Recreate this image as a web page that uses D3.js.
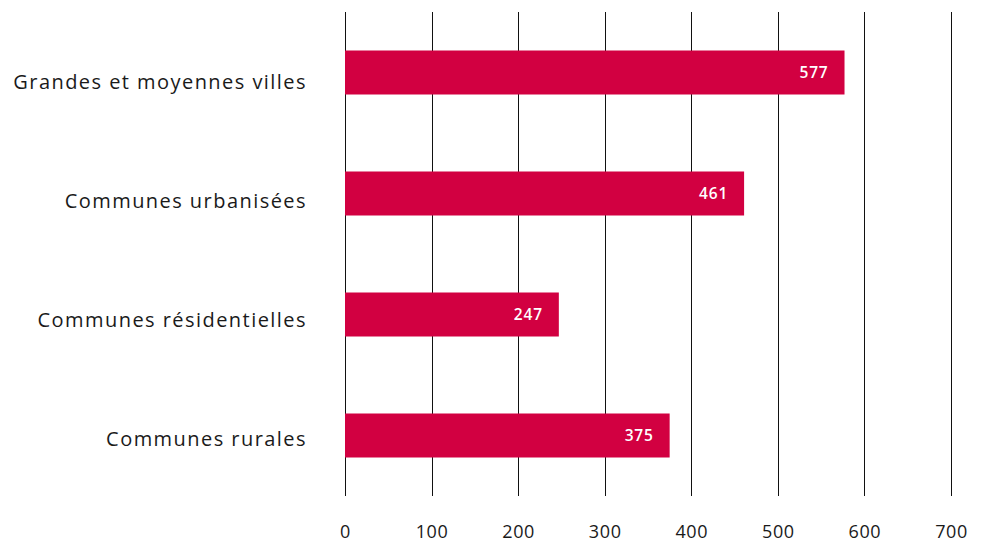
<!DOCTYPE html>
<html lang="fr">
<head>
<meta charset="utf-8" />
<style>
body { margin: 0; background: #fff; }
.cat { font-family: "Open Sans", sans-serif; font-size: 20px; letter-spacing: 1.45px; fill: #1a1a1a; text-anchor: end; }
.val { font-family: "Open Sans", sans-serif; font-size: 15.5px; font-weight: 600; letter-spacing: 0.8px; fill: #fff; text-anchor: end; }
.tick text { font-family: "Open Sans", sans-serif; font-size: 18px; letter-spacing: 0.6px; fill: #1a1a1a; }
.grid { stroke: #111; stroke-width: 1px; }
</style>
</head>
<body>
<script src="https://cdn.jsdelivr.net/npm/d3@7"></script>
<script>
var categories = ["Grandes et moyennes villes", "Communes urbanisées", "Communes résidentielles", "Communes rurales"];
var values = [577, 461, 247, 375];
var ticks = [0, 100, 200, 300, 400, 500, 600, 700];

var width = 981, height = 542;
var plotTop = 12, plotBottom = 496, plotLeft = 345, plotRight = 951;
var barH = 44;

var svg = d3.select("body").append("svg")
    .attr("width", width)
    .attr("height", height);

var x = d3.scaleLinear().domain([0, 700]).range([plotLeft, plotRight]);
var y = d3.scaleBand().domain(categories).range([plotTop, plotBottom]).padding(0);
// category labels sit on a slightly tighter spacing than the bars
var yLabel = d3.scalePoint().domain(categories).range([82, 438.5]);

// gridlines
svg.selectAll(".grid")
    .data(ticks)
  .enter().append("line")
    .attr("class", "grid")
    .attr("x1", function (d) { return Math.round(x(d)) + 0.5; })
    .attr("x2", function (d) { return Math.round(x(d)) + 0.5; })
    .attr("y1", plotTop)
    .attr("y2", plotBottom);

// tick labels
var axis = svg.append("g")
    .attr("transform", "translate(0," + (plotBottom + 23) + ")")
    .call(d3.axisBottom(x).tickValues(ticks).tickSize(0).tickPadding(0));
axis.select(".domain").remove();
axis.selectAll("text").attr("dy", "1.05em");

var rows = categories.map(function (c, i) { return { cat: c, value: values[i] }; });

svg.selectAll(".bar")
    .data(rows)
  .enter().append("rect")
    .attr("class", "bar")
    .attr("x", x(0))
    .attr("y", function (d) { return y(d.cat) + y.bandwidth() / 2 - barH / 2; })
    .attr("width", function (d) { return x(d.value) - x(0); })
    .attr("height", barH)
    .attr("fill", "#d20041");

svg.selectAll(".val")
    .data(rows)
  .enter().append("text")
    .attr("class", "val")
    .attr("x", function (d) { return x(d.value) - 16; })
    .attr("y", function (d) { return y(d.cat) + y.bandwidth() / 2; })
    .attr("dy", "0.35em")
    .text(function (d) { return d.value; });

svg.selectAll(".cat")
    .data(rows)
  .enter().append("text")
    .attr("class", "cat")
    .attr("x", 307)
    .attr("y", function (d) { return yLabel(d.cat); })
    .attr("dy", "0.35em")
    .text(function (d) { return d.cat; });
</script>
</body>
</html>
